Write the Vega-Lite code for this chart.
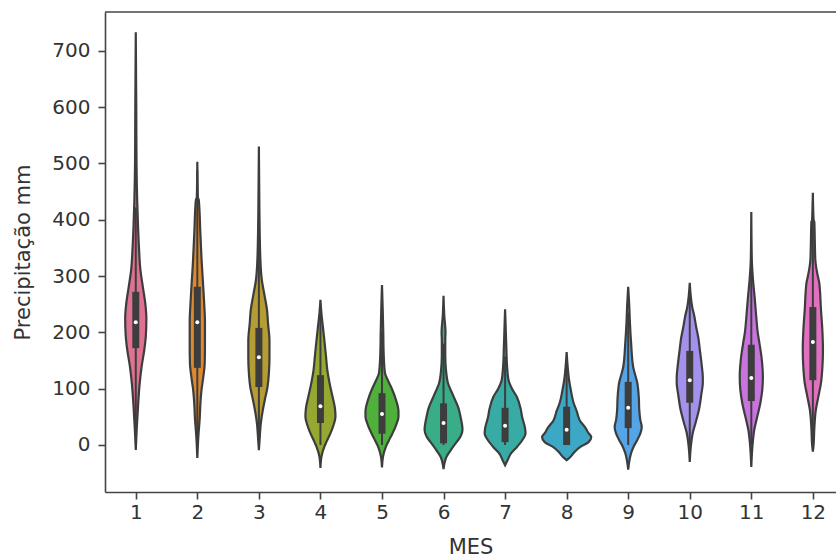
{
  "$schema": "https://vega.github.io/schema/vega-lite/v6.json",
  "description": "Precipitação mensal (mm): distribuição por mês em violinos com caixa interna.",
  "autosize": "none",
  "width": 731,
  "height": 480,
  "padding": {"left": 105, "top": 12, "right": 0, "bottom": 68},
  "background": "white",
  "config": {
    "view": {"stroke": null},
    "axis": {
      "labelFont": "DejaVu Sans",
      "titleFont": "DejaVu Sans",
      "labelFontSize": 20,
      "titleFontSize": 21,
      "titleFontWeight": "normal",
      "labelColor": "#333333",
      "titleColor": "#333333",
      "domainColor": "#444444",
      "tickColor": "#444444",
      "domainWidth": 1.6,
      "tickWidth": 1.6,
      "tickSize": 7,
      "grid": false
    }
  },
  "datasets": {
    "violino": [
      {"MES": 1, "mm": 733, "dens": 0}, {"MES": 1, "mm": 600, "dens": 0.02}, {"MES": 1, "mm": 500, "dens": 0.03}, {"MES": 1, "mm": 430, "dens": 0.06}, {"MES": 1, "mm": 390, "dens": 0.09}, {"MES": 1, "mm": 350, "dens": 0.13}, {"MES": 1, "mm": 310, "dens": 0.19}, {"MES": 1, "mm": 280, "dens": 0.29}, {"MES": 1, "mm": 250, "dens": 0.39}, {"MES": 1, "mm": 225, "dens": 0.43}, {"MES": 1, "mm": 195, "dens": 0.41}, {"MES": 1, "mm": 170, "dens": 0.35}, {"MES": 1, "mm": 140, "dens": 0.24}, {"MES": 1, "mm": 110, "dens": 0.16}, {"MES": 1, "mm": 75, "dens": 0.10}, {"MES": 1, "mm": 30, "dens": 0.04}, {"MES": 1, "mm": -9, "dens": 0},
      {"MES": 2, "mm": 503, "dens": 0}, {"MES": 2, "mm": 440, "dens": 0.02}, {"MES": 2, "mm": 435, "dens": 0.06}, {"MES": 2, "mm": 380, "dens": 0.12}, {"MES": 2, "mm": 323, "dens": 0.18}, {"MES": 2, "mm": 281, "dens": 0.24}, {"MES": 2, "mm": 250, "dens": 0.28}, {"MES": 2, "mm": 218, "dens": 0.31}, {"MES": 2, "mm": 180, "dens": 0.31}, {"MES": 2, "mm": 145, "dens": 0.30}, {"MES": 2, "mm": 120, "dens": 0.24}, {"MES": 2, "mm": 98, "dens": 0.17}, {"MES": 2, "mm": 70, "dens": 0.12}, {"MES": 2, "mm": 50, "dens": 0.10}, {"MES": 2, "mm": 14, "dens": 0.04}, {"MES": 2, "mm": -23, "dens": 0},
      {"MES": 3, "mm": 530, "dens": 0}, {"MES": 3, "mm": 420, "dens": 0.02}, {"MES": 3, "mm": 330, "dens": 0.06}, {"MES": 3, "mm": 293, "dens": 0.12}, {"MES": 3, "mm": 263, "dens": 0.24}, {"MES": 3, "mm": 240, "dens": 0.33}, {"MES": 3, "mm": 217, "dens": 0.37}, {"MES": 3, "mm": 185, "dens": 0.43}, {"MES": 3, "mm": 156, "dens": 0.43}, {"MES": 3, "mm": 130, "dens": 0.41}, {"MES": 3, "mm": 103, "dens": 0.35}, {"MES": 3, "mm": 80, "dens": 0.24}, {"MES": 3, "mm": 62, "dens": 0.16}, {"MES": 3, "mm": 39, "dens": 0.08}, {"MES": 3, "mm": 10, "dens": 0.03}, {"MES": 3, "mm": -9, "dens": 0},
      {"MES": 4, "mm": 258, "dens": 0}, {"MES": 4, "mm": 234, "dens": 0.04}, {"MES": 4, "mm": 210, "dens": 0.10}, {"MES": 4, "mm": 186, "dens": 0.16}, {"MES": 4, "mm": 160, "dens": 0.22}, {"MES": 4, "mm": 133, "dens": 0.28}, {"MES": 4, "mm": 110, "dens": 0.37}, {"MES": 4, "mm": 86, "dens": 0.49}, {"MES": 4, "mm": 65, "dens": 0.59}, {"MES": 4, "mm": 50, "dens": 0.61}, {"MES": 4, "mm": 35, "dens": 0.53}, {"MES": 4, "mm": 21, "dens": 0.41}, {"MES": 4, "mm": 5, "dens": 0.24}, {"MES": 4, "mm": -3, "dens": 0.16}, {"MES": 4, "mm": -21, "dens": 0.04}, {"MES": 4, "mm": -41, "dens": 0},
      {"MES": 5, "mm": 284, "dens": 0}, {"MES": 5, "mm": 240, "dens": 0.03}, {"MES": 5, "mm": 204, "dens": 0.05}, {"MES": 5, "mm": 160, "dens": 0.07}, {"MES": 5, "mm": 128, "dens": 0.12}, {"MES": 5, "mm": 115, "dens": 0.24}, {"MES": 5, "mm": 103, "dens": 0.37}, {"MES": 5, "mm": 80, "dens": 0.57}, {"MES": 5, "mm": 60, "dens": 0.67}, {"MES": 5, "mm": 50, "dens": 0.67}, {"MES": 5, "mm": 35, "dens": 0.57}, {"MES": 5, "mm": 21, "dens": 0.43}, {"MES": 5, "mm": 8, "dens": 0.28}, {"MES": 5, "mm": -3, "dens": 0.16}, {"MES": 5, "mm": -21, "dens": 0.04}, {"MES": 5, "mm": -40, "dens": 0},
      {"MES": 6, "mm": 265, "dens": 0}, {"MES": 6, "mm": 230, "dens": 0.03}, {"MES": 6, "mm": 200, "dens": 0.08}, {"MES": 6, "mm": 186, "dens": 0.07}, {"MES": 6, "mm": 160, "dens": 0.07}, {"MES": 6, "mm": 133, "dens": 0.10}, {"MES": 6, "mm": 110, "dens": 0.18}, {"MES": 6, "mm": 86, "dens": 0.41}, {"MES": 6, "mm": 65, "dens": 0.61}, {"MES": 6, "mm": 50, "dens": 0.69}, {"MES": 6, "mm": 27, "dens": 0.77}, {"MES": 6, "mm": 15, "dens": 0.69}, {"MES": 6, "mm": 3, "dens": 0.49}, {"MES": 6, "mm": -10, "dens": 0.28}, {"MES": 6, "mm": -21, "dens": 0.12}, {"MES": 6, "mm": -43, "dens": 0},
      {"MES": 7, "mm": 241, "dens": 0}, {"MES": 7, "mm": 200, "dens": 0.03}, {"MES": 7, "mm": 174, "dens": 0.05}, {"MES": 7, "mm": 140, "dens": 0.08}, {"MES": 7, "mm": 115, "dens": 0.14}, {"MES": 7, "mm": 100, "dens": 0.28}, {"MES": 7, "mm": 86, "dens": 0.47}, {"MES": 7, "mm": 65, "dens": 0.63}, {"MES": 7, "mm": 50, "dens": 0.69}, {"MES": 7, "mm": 30, "dens": 0.81}, {"MES": 7, "mm": 21, "dens": 0.83}, {"MES": 7, "mm": 8, "dens": 0.69}, {"MES": 7, "mm": -3, "dens": 0.49}, {"MES": 7, "mm": -15, "dens": 0.24}, {"MES": 7, "mm": -27, "dens": 0.10}, {"MES": 7, "mm": -36, "dens": 0},
      {"MES": 8, "mm": 165, "dens": 0}, {"MES": 8, "mm": 140, "dens": 0.04}, {"MES": 8, "mm": 115, "dens": 0.10}, {"MES": 8, "mm": 95, "dens": 0.18}, {"MES": 8, "mm": 75, "dens": 0.28}, {"MES": 8, "mm": 60, "dens": 0.41}, {"MES": 8, "mm": 44, "dens": 0.53}, {"MES": 8, "mm": 30, "dens": 0.77}, {"MES": 8, "mm": 21, "dens": 0.89}, {"MES": 8, "mm": 14, "dens": 1.0}, {"MES": 8, "mm": 5, "dens": 0.89}, {"MES": 8, "mm": -3, "dens": 0.57}, {"MES": 8, "mm": -12, "dens": 0.33}, {"MES": 8, "mm": -21, "dens": 0.16}, {"MES": 8, "mm": -27, "dens": 0},
      {"MES": 9, "mm": 281, "dens": 0}, {"MES": 9, "mm": 250, "dens": 0.04}, {"MES": 9, "mm": 217, "dens": 0.07}, {"MES": 9, "mm": 180, "dens": 0.12}, {"MES": 9, "mm": 139, "dens": 0.20}, {"MES": 9, "mm": 110, "dens": 0.37}, {"MES": 9, "mm": 85, "dens": 0.43}, {"MES": 9, "mm": 62, "dens": 0.45}, {"MES": 9, "mm": 45, "dens": 0.49}, {"MES": 9, "mm": 32, "dens": 0.55}, {"MES": 9, "mm": 20, "dens": 0.49}, {"MES": 9, "mm": 9, "dens": 0.37}, {"MES": 9, "mm": -3, "dens": 0.22}, {"MES": 9, "mm": -14, "dens": 0.12}, {"MES": 9, "mm": -30, "dens": 0.04}, {"MES": 9, "mm": -44, "dens": 0},
      {"MES": 10, "mm": 288, "dens": 0}, {"MES": 10, "mm": 265, "dens": 0.04}, {"MES": 10, "mm": 245, "dens": 0.10}, {"MES": 10, "mm": 230, "dens": 0.18}, {"MES": 10, "mm": 210, "dens": 0.26}, {"MES": 10, "mm": 190, "dens": 0.35}, {"MES": 10, "mm": 169, "dens": 0.41}, {"MES": 10, "mm": 140, "dens": 0.49}, {"MES": 10, "mm": 120, "dens": 0.53}, {"MES": 10, "mm": 110, "dens": 0.53}, {"MES": 10, "mm": 90, "dens": 0.47}, {"MES": 10, "mm": 62, "dens": 0.37}, {"MES": 10, "mm": 40, "dens": 0.24}, {"MES": 10, "mm": 21, "dens": 0.12}, {"MES": 10, "mm": 0, "dens": 0.05}, {"MES": 10, "mm": -30, "dens": 0},
      {"MES": 11, "mm": 414, "dens": 0}, {"MES": 11, "mm": 330, "dens": 0.02}, {"MES": 11, "mm": 293, "dens": 0.07}, {"MES": 11, "mm": 260, "dens": 0.14}, {"MES": 11, "mm": 228, "dens": 0.20}, {"MES": 11, "mm": 200, "dens": 0.26}, {"MES": 11, "mm": 181, "dens": 0.33}, {"MES": 11, "mm": 150, "dens": 0.43}, {"MES": 11, "mm": 121, "dens": 0.47}, {"MES": 11, "mm": 100, "dens": 0.45}, {"MES": 11, "mm": 75, "dens": 0.37}, {"MES": 11, "mm": 50, "dens": 0.24}, {"MES": 11, "mm": 27, "dens": 0.12}, {"MES": 11, "mm": 0, "dens": 0.05}, {"MES": 11, "mm": -39, "dens": 0},
      {"MES": 12, "mm": 448, "dens": 0}, {"MES": 12, "mm": 400, "dens": 0.03}, {"MES": 12, "mm": 396, "dens": 0.06}, {"MES": 12, "mm": 360, "dens": 0.08}, {"MES": 12, "mm": 329, "dens": 0.10}, {"MES": 12, "mm": 300, "dens": 0.20}, {"MES": 12, "mm": 288, "dens": 0.26}, {"MES": 12, "mm": 240, "dens": 0.33}, {"MES": 12, "mm": 200, "dens": 0.39}, {"MES": 12, "mm": 169, "dens": 0.41}, {"MES": 12, "mm": 140, "dens": 0.39}, {"MES": 12, "mm": 110, "dens": 0.33}, {"MES": 12, "mm": 85, "dens": 0.22}, {"MES": 12, "mm": 62, "dens": 0.12}, {"MES": 12, "mm": 30, "dens": 0.06}, {"MES": 12, "mm": 0, "dens": 0.03}, {"MES": 12, "mm": -12, "dens": 0}
    ],
    "caixa": [
      {"MES": 1, "lo": 22, "q1": 172, "med": 218, "q3": 272, "hi": 422},
      {"MES": 2, "lo": 0, "q1": 137, "med": 218, "q3": 281, "hi": 488},
      {"MES": 3, "lo": 6, "q1": 103, "med": 156, "q3": 208, "hi": 365},
      {"MES": 4, "lo": 0, "q1": 39, "med": 69, "q3": 124, "hi": 243},
      {"MES": 5, "lo": 0, "q1": 20, "med": 55, "q3": 92, "hi": 200},
      {"MES": 6, "lo": 0, "q1": 3, "med": 39, "q3": 74, "hi": 180},
      {"MES": 7, "lo": 0, "q1": 5, "med": 34, "q3": 66, "hi": 157},
      {"MES": 8, "lo": 0, "q1": 0, "med": 27, "q3": 68, "hi": 150},
      {"MES": 9, "lo": 0, "q1": 30, "med": 66, "q3": 112, "hi": 235},
      {"MES": 10, "lo": 0, "q1": 75, "med": 115, "q3": 167, "hi": 273},
      {"MES": 11, "lo": 0, "q1": 78, "med": 119, "q3": 178, "hi": 328},
      {"MES": 12, "lo": 3, "q1": 115, "med": 183, "q3": 245, "hi": 433}
    ]
  },
  "layer": [
    {
      "data": {"name": "violino"},
      "transform": [
        {"calculate": "datum.MES - 0.4 * datum.dens", "as": "esq"},
        {"calculate": "datum.MES + 0.4 * datum.dens", "as": "dir"}
      ],
      "mark": {"type": "area", "orient": "horizontal", "interpolate": "monotone", "stroke": "#3d3d3d", "strokeWidth": 2.2, "fillOpacity": 1},
      "encoding": {
        "y": {
          "field": "mm", "type": "quantitative",
          "scale": {"domain": [-83.5, 769], "nice": false, "zero": false},
          "axis": {"values": [0, 100, 200, 300, 400, 500, 600, 700], "title": "Precipitação mm", "labelPadding": 8, "titlePadding": 18}
        },
        "x": {
          "field": "esq", "type": "quantitative",
          "scale": {"domain": [0.5, 12.376], "nice": false, "zero": false},
          "axis": {"values": [1, 2, 3, 4, 5, 6, 7, 8, 9, 10, 11, 12], "format": "d", "title": "MES", "labelPadding": 3, "titlePadding": 14}
        },
        "x2": {"field": "dir"},
        "color": {
          "field": "MES", "type": "nominal", "legend": null,
          "scale": {
            "domain": [1, 2, 3, 4, 5, 6, 7, 8, 9, 10, 11, 12],
            "range": ["#df7290", "#dc8932", "#b59d33", "#97a832", "#4fb13c", "#38ad88", "#38aba4", "#3ca8c6", "#55a4e6", "#a391ec", "#c874df", "#e070c0"]
          }
        }
      }
    },
    {
      "data": {"name": "caixa"},
      "mark": {"type": "rule", "color": "#3d3d3d", "strokeWidth": 2},
      "encoding": {
        "x": {"field": "MES", "type": "quantitative"},
        "y": {"field": "lo", "type": "quantitative"},
        "y2": {"field": "hi"}
      }
    },
    {
      "data": {"name": "caixa"},
      "mark": {"type": "rule", "color": "#3d3d3d", "strokeWidth": 7, "strokeCap": "butt"},
      "encoding": {
        "x": {"field": "MES", "type": "quantitative"},
        "y": {"field": "q1", "type": "quantitative"},
        "y2": {"field": "q3"}
      }
    },
    {
      "data": {"name": "caixa"},
      "mark": {"type": "point", "filled": true, "color": "white", "opacity": 1, "size": 16},
      "encoding": {
        "x": {"field": "MES", "type": "quantitative"},
        "y": {"field": "med", "type": "quantitative"}
      }
    },
    {
      "data": {"values": [{"limite": 769}]},
      "mark": {"type": "rule", "color": "#444444", "strokeWidth": 1.6},
      "encoding": {
        "y": {"field": "limite", "type": "quantitative"}
      }
    }
  ]
}
